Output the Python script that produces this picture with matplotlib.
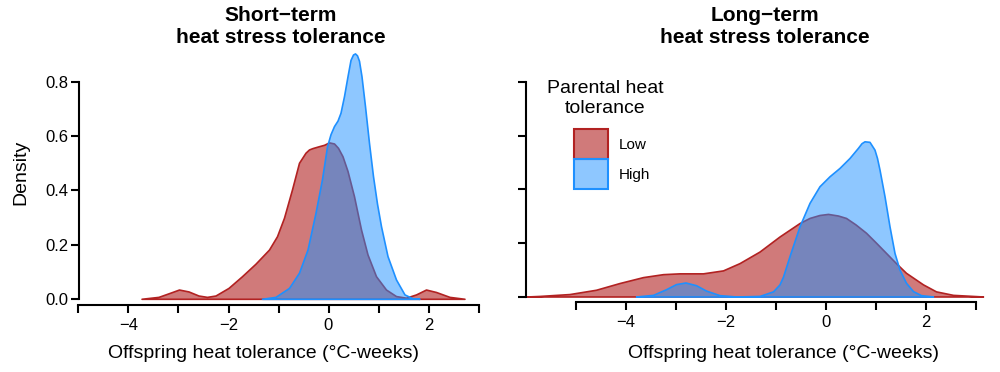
import matplotlib
matplotlib.use("Agg")
import matplotlib.pyplot as plt
from matplotlib.colors import to_rgba
from matplotlib.patches import Patch

plt.rcParams["font.family"] = ["Liberation Sans", "DejaVu Sans"]

# Short-term panel: density curves
short_low_x = [-3.73, -3.39, -3.16, -2.98, -2.79, -2.59, -2.42, -2.25, -1.99, -1.72, -1.45,
               -1.18, -1.02, -0.88, -0.72, -0.58, -0.45, -0.38, -0.31, -0.18, -0.08, 0.02,
               0.12, 0.20, 0.29, 0.39, 0.52, 0.66, 0.79, 0.96, 1.16, 1.36, 1.56, 1.76, 1.96,
               2.16, 2.43, 2.73]
short_low_y = [0.0, 0.007, 0.022, 0.034, 0.027, 0.012, 0.007, 0.012, 0.040, 0.083, 0.129,
               0.181, 0.230, 0.298, 0.402, 0.500, 0.537, 0.549, 0.554, 0.561, 0.566, 0.575,
               0.571, 0.555, 0.524, 0.470, 0.377, 0.255, 0.163, 0.083, 0.034, 0.010, 0.004,
               0.016, 0.034, 0.025, 0.007, 0.0]
short_high_x = [-1.32, -1.05, -0.78, -0.58, -0.41, -0.25, -0.12, -0.02, 0.05, 0.12, 0.19,
                0.25, 0.32, 0.39, 0.45, 0.50, 0.54, 0.58, 0.62, 0.67, 0.74, 0.82, 0.90,
                0.98, 1.06, 1.19, 1.36, 1.53, 1.69, 1.83]
short_high_y = [0.0, 0.007, 0.040, 0.096, 0.181, 0.316, 0.440, 0.560, 0.605, 0.635, 0.655,
                0.684, 0.745, 0.818, 0.878, 0.898, 0.902, 0.895, 0.875, 0.818, 0.708, 0.573,
                0.451, 0.350, 0.267, 0.157, 0.071, 0.016, 0.002, 0.0]

# Long-term panel
long_low_x = [-5.97, -5.72, -5.12, -4.59, -4.12, -3.65, -3.25, -2.92, -2.45, -2.05, -1.72,
              -1.32, -0.92, -0.52, -0.32, -0.12, 0.05, 0.25, 0.41, 0.60, 0.81, 1.01, 1.21,
              1.41, 1.61, 1.95, 2.21, 2.55, 3.15]
long_low_y = [0.0, 0.002, 0.009, 0.025, 0.050, 0.072, 0.083, 0.086, 0.086, 0.097, 0.124,
              0.167, 0.223, 0.273, 0.292, 0.303, 0.307, 0.301, 0.292, 0.268, 0.237, 0.200,
              0.162, 0.124, 0.088, 0.045, 0.019, 0.006, 0.0]
long_high_x = [-3.79, -3.45, -3.19, -2.99, -2.80, -2.59, -2.39, -2.12, -1.79, -1.32, -1.05,
               -0.92, -0.85, -0.72, -0.52, -0.32, -0.12, 0.08, 0.28, 0.48, 0.65, 0.72, 0.78,
               0.88, 0.98, 1.03, 1.08, 1.18, 1.28, 1.38, 1.48, 1.61, 1.75, 1.91, 2.15]
long_high_y = [0.0, 0.006, 0.027, 0.046, 0.052, 0.042, 0.022, 0.005, 0.0, 0.002, 0.019,
               0.045, 0.074, 0.150, 0.261, 0.348, 0.410, 0.447, 0.478, 0.515, 0.553, 0.570,
               0.577, 0.575, 0.546, 0.515, 0.472, 0.373, 0.261, 0.162, 0.100, 0.051, 0.020,
               0.005, 0.0]

x_ticks = [-5, -4, -3, -2, -1, 0, 1, 2, 3]
x_ticklabels = ["", "\u22124", "", "\u22122", "", "0", "", "2", ""]
y_ticks = [0.0, 0.2, 0.4, 0.6, 0.8]
y_ticklabels = ["0.0", "0.2", "0.4", "0.6", "0.8"]

titles = ["Short\u2212term\nheat stress tolerance", "Long\u2212term\nheat stress tolerance"]
xlabel = "Offspring heat tolerance (\u00b0C-weeks)"
legend_title = "Parental heat\ntolerance"
legend_labels = ["Low", "High"]

RED = "#B22222"
BLUE = "#1E90FF"

fig = plt.figure(figsize=(10, 3.72), dpi=100)
ax1 = fig.add_axes([0.0785, 0.1801, 0.41, 0.6954])
ax2 = fig.add_axes([0.526, 0.189, 0.46, 0.685])


def style(ax, xlim, ymin, show_ylabels):
    ax.set_xlim(*xlim)
    ax.set_ylim(ymin, 0.93)
    for s in ["top", "right"]:
        ax.spines[s].set_visible(False)
    for s in ["left", "bottom"]:
        ax.spines[s].set_linewidth(1.5)
    ax.spines["bottom"].set_bounds(-5, 3)
    ax.spines["left"].set_bounds(0, 0.8)
    ax.set_xticks(x_ticks)
    ax.set_xticklabels(x_ticklabels)
    ax.set_yticks(y_ticks)
    ax.set_yticklabels(y_ticklabels if show_ylabels else [""] * len(y_ticks))
    ax.tick_params(axis="both", direction="out", length=5.5, width=1.5, labelsize=12)
    ax.tick_params(axis="x", pad=4)
    ax.tick_params(axis="y", pad=2)


def draw(ax, lx, ly, hx, hy):
    ax.fill(lx, ly, facecolor=to_rgba(RED, 0.6), edgecolor=RED, linewidth=1.2,
            joinstyle="round", clip_on=False)
    ax.fill(hx, hy, facecolor=to_rgba(BLUE, 0.5), edgecolor=BLUE, linewidth=1.2,
            joinstyle="round", clip_on=False)


draw(ax1, short_low_x, short_low_y, short_high_x, short_high_y)
draw(ax2, long_low_x, long_low_y, long_high_x, long_high_y)
style(ax1, (-5, 3.2), -0.021, True)
style(ax2, (-6, 3.2), -0.0175, False)

fig.text(0.281, 0.929, titles[0], ha="center", va="center", fontsize=15,
         fontweight="bold", linespacing=1.18)
fig.text(0.765, 0.929, titles[1], ha="center", va="center", fontsize=15,
         fontweight="bold", linespacing=1.18)
fig.text(0.264, 0.051, xlabel, ha="center", va="center", fontsize=14)
fig.text(0.784, 0.051, xlabel, ha="center", va="center", fontsize=14)
fig.text(0.021, 1 - 172.5 / 372, "Density", ha="center", va="center", rotation=90, fontsize=14)

# legend: title as separate text, boxes below it
ax2.text(0.172, 0.797, legend_title, transform=ax2.transAxes, ha="center", va="center",
         multialignment="center", fontsize=14, linespacing=1.28)
handles = [Patch(facecolor=to_rgba(RED, 0.6), edgecolor=RED, linewidth=1.5),
           Patch(facecolor=to_rgba(BLUE, 0.5), edgecolor=BLUE, linewidth=1.5)]
ax2.legend(handles, legend_labels, loc="upper left", bbox_to_anchor=(0.1043, 0.6775),
           frameon=False, fontsize=11, handlelength=2.2, handleheight=2.64,
           labelspacing=0, handletextpad=0.72, borderpad=0, borderaxespad=0)

fig.savefig("out.png", dpi=100)
